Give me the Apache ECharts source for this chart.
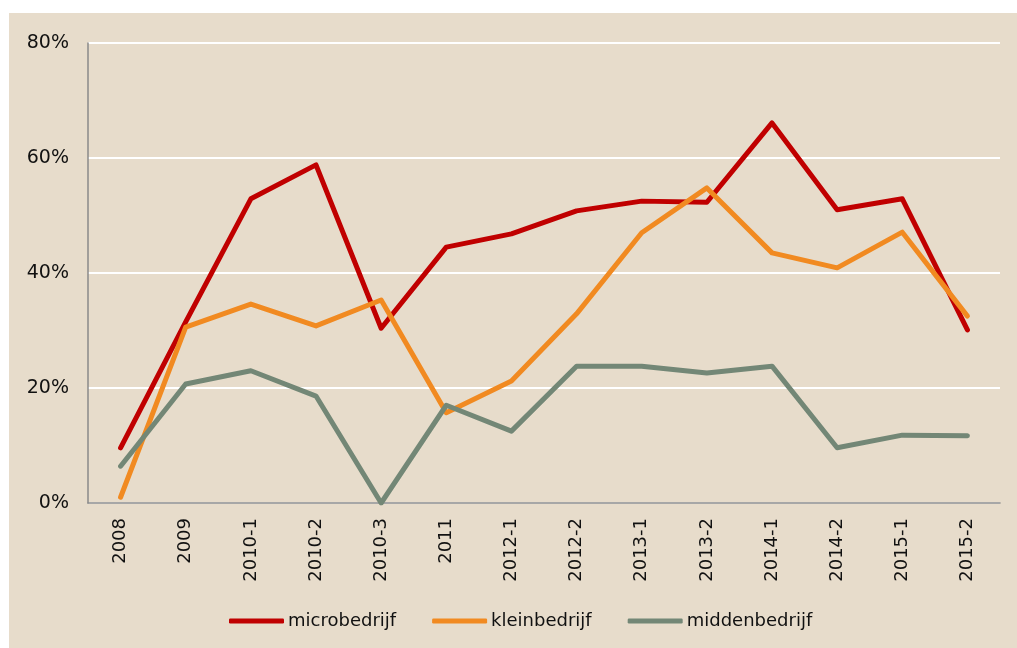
<!DOCTYPE html>
<html>
	<head>
		<meta charset="utf-8" />
		<title></title>
		<script src="https://cdn.jsdelivr.net/npm/echarts@6/dist/echarts.min.js"></script>
		<style>
			body { margin: 0; background: #fff; }
			#panel { position: absolute; left: 9px; top: 13px; width: 1008px; height: 635px; background: #e7dccb; }
			#main { position: absolute; left: 0; top: 0; width: 1017px; height: 648px; }
		</style>
	</head>
	<body>
		<div id="panel"></div>
		<div id="main"></div>
		<script>
			var categories = ['2008', '2009', '2010-1', '2010-2', '2010-3', '2011', '2012-1', '2012-2',
				'2013-1', '2013-2', '2014-1', '2014-2', '2015-1', '2015-2'];
			var micro = [9.6, 31.5, 52.9, 58.8, 30.4, 44.5, 46.8, 50.8, 52.5, 52.3, 66.1, 51.0, 52.9, 30.1];
			var klein = [1.0, 30.6, 34.6, 30.8, 35.3, 15.7, 21.2, 32.9, 47.0, 54.8, 43.5, 40.9, 47.1, 32.5];
			var midden = [6.4, 20.7, 23.0, 18.6, 0.0, 17.0, 12.5, 23.8, 23.8, 22.6, 23.8, 9.6, 11.8, 11.7];
			var yTicks = [0, 20, 40, 60, 80];

			var font = 'DejaVu Sans';
			var chart = echarts.init(document.getElementById('main'));

			function line(name, data, color) {
				return {
					name: name,
					type: 'line',
					data: data,
					symbol: 'none',
					lineStyle: { width: 5, color: color, cap: 'round', join: 'round' },
					itemStyle: { color: color }
				};
			}

			var option = {
				backgroundColor: 'transparent',
				animation: false,
				grid: { left: 88, right: 17, top: 43, bottom: 145 },
				legend: {
					left: 229,
					top: 612,
					padding: 0,
					icon: 'roundRect',
					itemWidth: 55,
					itemHeight: 5,
					itemGap: 36,
					textStyle: { fontFamily: font, fontSize: 18, color: '#111', padding: [0, 0, 0, -1] },
					data: ['microbedrijf', 'kleinbedrijf', 'middenbedrijf']
				},
				xAxis: {
					type: 'category',
					boundaryGap: true,
					data: categories,
					axisLine: { lineStyle: { color: '#8a8a8a', width: 1.5 } },
					axisTick: { show: false },
					axisLabel: { rotate: 90, margin: 15, fontFamily: font, fontSize: 18, color: '#111', interval: 0 }
				},
				yAxis: {
					type: 'value',
					min: yTicks[0],
					max: yTicks[yTicks.length - 1],
					interval: 20,
					axisLine: { show: true, lineStyle: { color: '#8a8a8a', width: 1.5 } },
					axisTick: { show: false },
					splitLine: { lineStyle: { color: '#ffffff', width: 2 } },
					axisLabel: { formatter: '{value}%', margin: 19, fontFamily: font, fontSize: 19, color: '#111' }
				},
				series: [
					line('microbedrijf', micro, '#c00000'),
					line('kleinbedrijf', klein, '#f18a21'),
					line('middenbedrijf', midden, '#738776')
				]
			};
			chart.setOption(option);
		</script>
	</body>
</html>
